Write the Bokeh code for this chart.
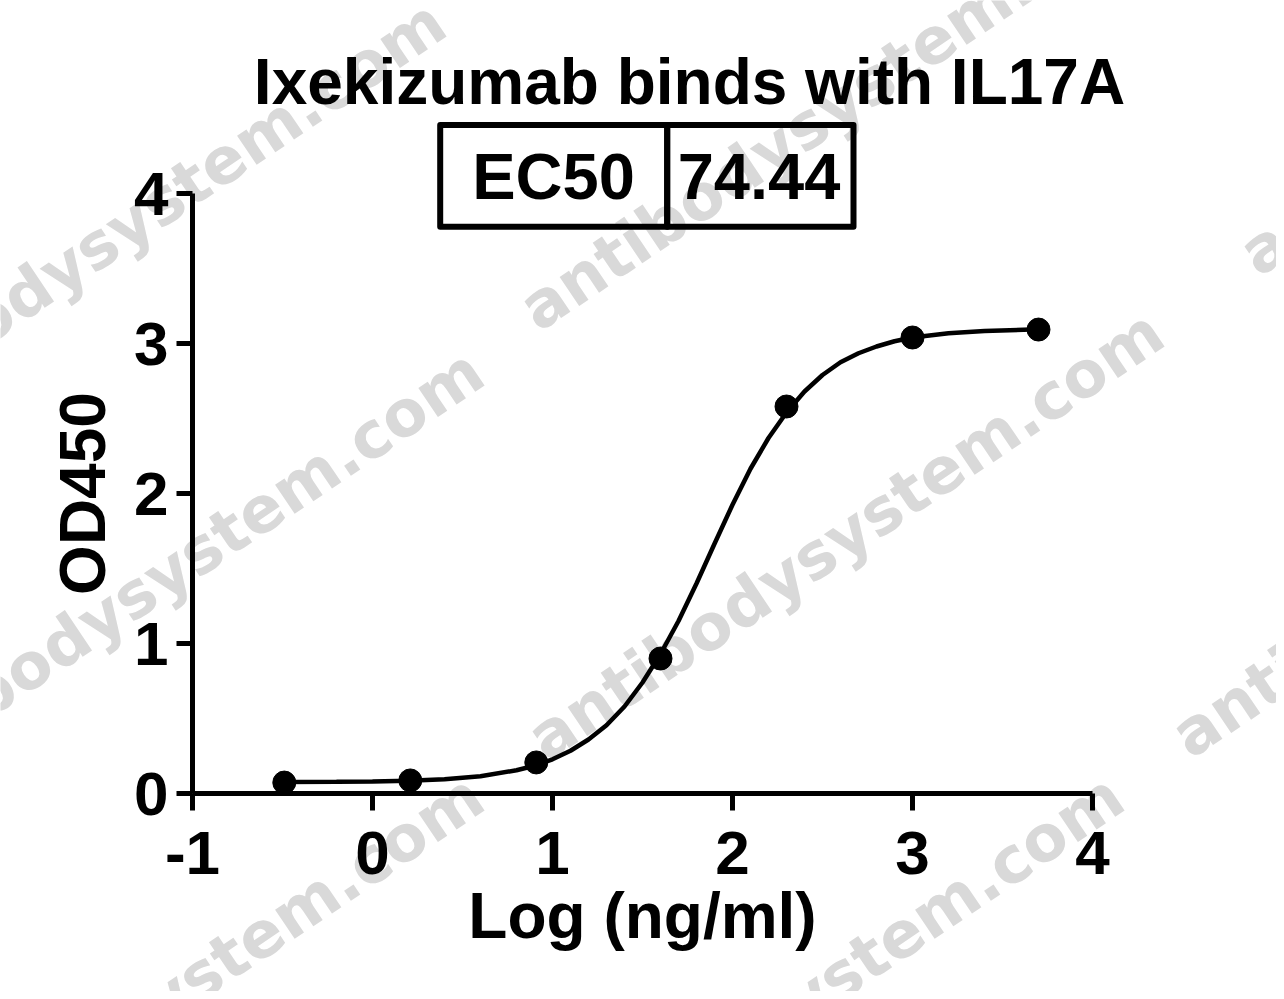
from bokeh.plotting import figure
from bokeh.models import Range1d, FixedTicker, Label, LinearAxis
from bokeh.embed import file_html
from bokeh.resources import INLINE
import math

# ---------------- data ----------------
title_text = "Ixekizumab binds with IL17A"
ec50_name = "EC50"
ec50_value = "74.44"
x_label = "Log (ng/ml)"
y_label = "OD450"

x_ticks = [-1, 0, 1, 2, 3, 4]
x_tick_labels = ["-1", "0", "1", "2", "3", "4"]
y_ticks = [0, 1, 2, 3, 4]
y_tick_labels = ["0", "1", "2", "3", "4"]

# measured points
log_conc = [-0.49, 0.21, 0.91, 1.60, 2.30, 3.00, 3.70]
od450 = [0.073, 0.087, 0.207, 0.90, 2.58, 3.04, 3.093]

# fitted curve
fit_x = [-0.49, -0.2, 0.0, 0.2, 0.4, 0.6, 0.8, 0.9, 1.0, 1.1, 1.2, 1.3, 1.4, 1.5,
         1.6, 1.7, 1.8, 1.9, 2.0, 2.1, 2.2, 2.3, 2.4, 2.5, 2.6, 2.7, 2.8, 2.9,
         3.0, 3.2, 3.4, 3.7]
fit_y = [0.076, 0.078, 0.080, 0.085, 0.095, 0.115, 0.155, 0.185, 0.228, 0.285,
         0.360, 0.455, 0.580, 0.740, 0.930, 1.150, 1.400, 1.665, 1.925, 2.165,
         2.370, 2.540, 2.680, 2.790, 2.875, 2.935, 2.980, 3.015, 3.040, 3.068,
         3.084, 3.095]

watermark_text = "antibodysystem.com"

# ---------------- layout ----------------
W, H = 1276, 991          # canvas size
OFF = 0                   # page offset of the canvas
AX_L, AX_B = 192, 793     # page px of x=-1 / y=0
PX_X, PX_Y = 180.0, 150.0 # px per data unit
X0, Y0 = -1, 0
X1, Y1 = 4, 4
FONT = "Liberation Sans"
BASE_SHIFT = 0.39         # label baseline correction, in em


def to_data(px, py):
    """page pixel -> data coordinates"""
    return X0 + (px - AX_L) / PX_X, Y0 + (AX_B - py) / PX_Y


xa, yb = to_data(OFF, OFF + H)
xb, ya = to_data(OFF + W, OFF)

p = figure(width=W, height=H, x_range=Range1d(xa, xb), y_range=Range1d(yb, ya),
           x_axis_type=None, y_axis_type=None,
           output_backend="svg", toolbar_location=None, min_border=0)
p.min_border_left = p.min_border_right = p.min_border_top = p.min_border_bottom = 0
p.grid.visible = False
p.outline_line_color = None
p.background_fill_color = "white"
p.border_fill_color = "white"

# watermarks (underneath everything)
WM_ANGLE = 0.593
WM_SIZE = 64
wm_starts = [(540, 335), (548, 765), (1260, 280), (1192, 762),
             (-170, 455), (-132, 804), (-132, 1229), (508, 1229)]
dx = math.sin(WM_ANGLE) * BASE_SHIFT * WM_SIZE
dy = math.cos(WM_ANGLE) * BASE_SHIFT * WM_SIZE
for sx, sy in wm_starts:
    x, y = to_data(sx - dx, sy - dy)
    p.add_layout(Label(x=x, y=y, text=watermark_text, angle=WM_ANGLE,
                       text_font="DejaVu Sans", text_font_style="bold",
                       text_font_size=f"{WM_SIZE}px", text_color="#d9d9d9",
                       text_align="left", text_baseline="alphabetic",
                       level="image"))

# axes, pinned at the data origin
xaxis = LinearAxis(fixed_location=Y0, bounds=(X0, X1))
yaxis = LinearAxis(fixed_location=X0, bounds=(Y0, Y1))
for ax, ticks, labs in ((xaxis, x_ticks, x_tick_labels),
                        (yaxis, y_ticks, y_tick_labels)):
    ax.ticker = FixedTicker(ticks=ticks)
    ax.major_label_overrides = {t: l for t, l in zip(ticks, labs)}
    ax.axis_line_width = 5
    ax.axis_line_color = "black"
    ax.major_tick_line_width = 5
    ax.major_tick_line_color = "black"
    ax.major_tick_in = 0
    ax.minor_tick_line_color = None
    ax.major_label_text_font = FONT
    ax.major_label_text_font_style = "bold"
    ax.major_label_text_font_size = "62px"
    ax.major_label_text_color = "black"
    ax.axis_label_text_font = FONT
    ax.axis_label_text_font_style = "bold"
    ax.axis_label_text_font_size = "64px"
    ax.axis_label_text_color = "black"

xaxis.axis_label = x_label
xaxis.major_tick_out = 17
xaxis.major_label_standoff = 21
xaxis.axis_label_standoff = 3
yaxis.axis_label = y_label
yaxis.major_tick_out = 16
yaxis.major_label_standoff = 8
yaxis.axis_label_standoff = 12
p.add_layout(xaxis, "below")
p.add_layout(yaxis, "left")

# curve and points
p.line(fit_x, fit_y, line_width=4.5, line_color="black")
p.scatter(log_conc, od450, size=23, fill_color="black", line_color="black")


def text_label(text, px, py, size):
    x, y = to_data(px, py - BASE_SHIFT * size)
    p.add_layout(Label(x=x, y=y, text=text, text_font=FONT,
                       text_font_style="bold", text_font_size=f"{size}px",
                       text_color="black", text_align="center",
                       text_baseline="alphabetic"))


# title
text_label(title_text, 689, 106, 64)

# EC50 table box
bl, bt = to_data(439.7, 124.5)
bd, bbm = to_data(666.7, 226.3)
br, _ = to_data(853, 226.3)
p.quad(left=[bl, bd], right=[bd, br], top=[bt, bt], bottom=[bbm, bbm],
       fill_color=None, line_color="black", line_width=6, line_join="round")

text_label(ec50_name, 553, 201.5, 65)
text_label(ec50_value, 758.5, 201.5, 65)

open("out.html", "w").write(file_html(p, INLINE))
